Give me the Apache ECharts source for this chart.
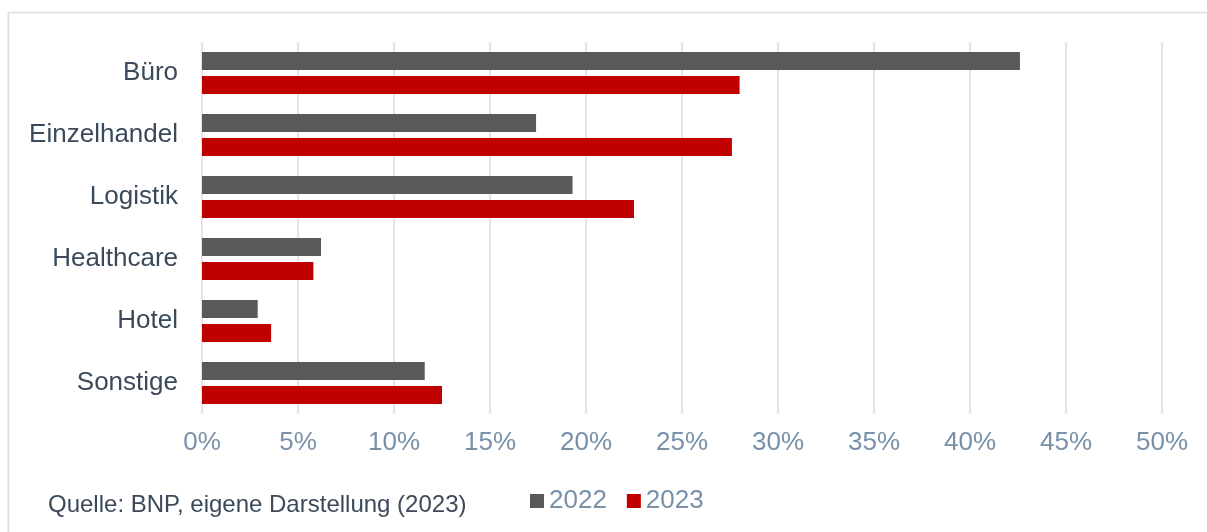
<!DOCTYPE html>
<html>
<head>
<meta charset="utf-8">
<script src="https://cdn.jsdelivr.net/npm/echarts@6/dist/echarts.min.js"></script>
<style>
  html, body { margin: 0; padding: 0; background: #fff; }
  #chart { width: 1207px; height: 532px; }
</style>
</head>
<body>
<div id="chart"></div>
<script>
  // Anteile nach Nutzungsart
  const categories = ['Büro', 'Einzelhandel', 'Logistik', 'Healthcare', 'Hotel', 'Sonstige'];
  const values2022 = [42.6, 17.4, 19.3, 6.2, 2.9, 11.6];
  const values2023 = [28.0, 27.6, 22.5, 5.8, 3.6, 12.5];
  const seriesNames = ['2022', '2023'];
  const source = 'Quelle: BNP, eigene Darstellung (2023)';

  const font = '"Liberation Sans", Arial, sans-serif';
  var myChart = echarts.init(document.getElementById('chart'));

  let option = {
    animation: false,
    color: ['#595959', '#c00000'],
    textStyle: { fontFamily: font },
    grid: {
      left: 202,
      right: 45,
      top: 42,
      bottom: 118,
      containLabel: false
    },
    legend: {
      data: seriesNames,
      left: 525,
      top: 483,
      icon: 'rect',
      itemWidth: 14,
      itemHeight: 14,
      itemGap: 20,
      textStyle: { fontSize: 26, color: '#7890a8', fontFamily: font }
    },
    xAxis: {
      type: 'value',
      min: 0,
      max: 50,
      interval: 5,
      axisLine: { show: false },
      axisTick: { show: false },
      axisLabel: {
        formatter: '{value}%',
        fontSize: 26,
        color: '#7890a8',
        margin: 16
      },
      splitLine: { lineStyle: { color: '#e1e5ea', width: 2 } }
    },
    yAxis: {
      type: 'category',
      inverse: true,
      data: categories,
      axisLine: { show: false },
      axisTick: { show: false },
      axisLabel: { fontSize: 26, color: '#3b4a5a', margin: 24 }
    },
    series: [
      {
        name: seriesNames[0],
        type: 'bar',
        barWidth: 18,
        barGap: '33%',
        data: values2022
      },
      {
        name: seriesNames[1],
        type: 'bar',
        barWidth: 18,
        data: values2023
      }
    ],
    graphic: [
      {
        type: 'rect',
        shape: { x: 8.5, y: 12.5, width: 1300, height: 600 },
        style: { fill: 'none', stroke: '#dfe3e8', lineWidth: 2 },
        silent: true
      },
      {
        type: 'text',
        left: 48,
        top: 493,
        style: { text: source, fontSize: 24, fill: '#3b4a5a', fontFamily: font }
      }
    ]
  };

  myChart.setOption(option, true);
</script>
</body>
</html>
